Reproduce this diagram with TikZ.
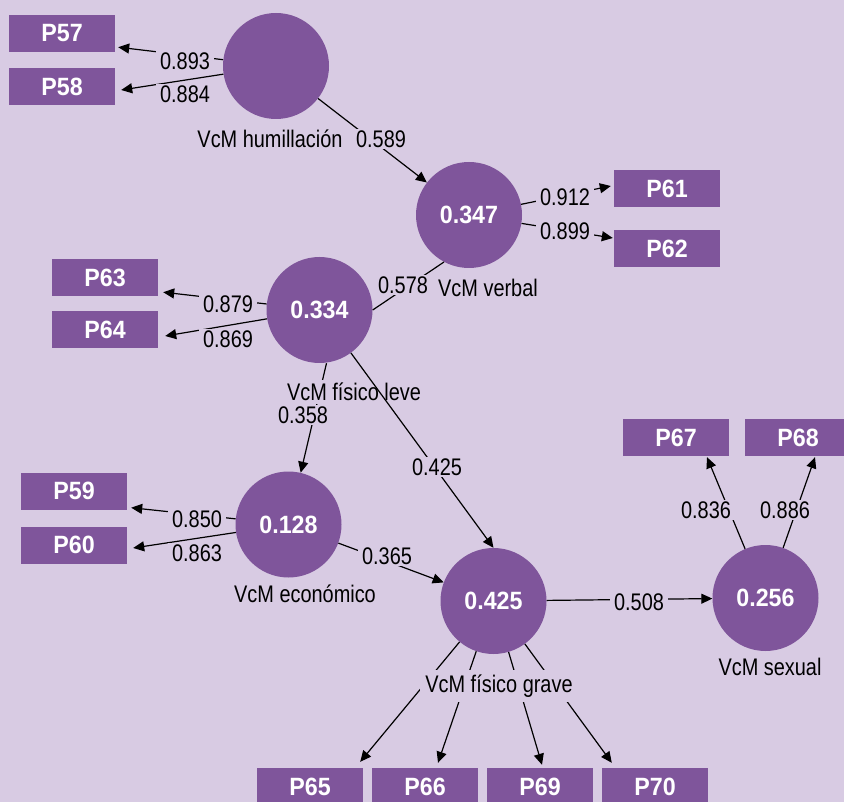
\documentclass[tikz,border=0pt]{standalone}
\usepackage{fontspec}
\setmainfont{Liberation Sans}[FakeStretch=0.83]
\newfontfamily\negrita{Liberation Sans}[FakeStretch=0.93]
\usetikzlibrary{positioning}
\usetikzlibrary{arrows.meta}
\definecolor{fondo}{HTML}{D8CBE3}
\definecolor{morado}{HTML}{7F559B}

\tikzset{
  lat/.style={circle, fill=morado, minimum size=106pt, inner sep=0pt, text=white, font=\fontsize{25}{28}\negrita\bfseries},
  ind/.style={rectangle, fill=morado, minimum width=106pt, minimum height=37pt, inner sep=0pt, text=white, font=\fontsize{25}{28}\negrita\bfseries},
  val/.style={fill=fondo, inner xsep=4pt, inner ysep=2pt, font=\fontsize{24}{27}\selectfont},
  nom/.style={fill=fondo, inner sep=3pt, font=\fontsize{24}{27}\selectfont},
  flecha/.style={-{Triangle[length=11pt,width=10pt]}, line width=1.2pt},
  linea/.style={line width=1.2pt}
}

\begin{document}
\begin{tikzpicture}[x=1pt, y=-1pt]
        \useasboundingbox (0,0) rectangle (844,802);
        \fill [fondo] (0,0) rectangle (844,802);
        \node [lat] (hum) at (276, 66) {};
        \node [lat] (verbal) at (469, 215) {0.347};
        \node [lat] (leve) at (319.5, 310) {0.334};
        \node [lat] (eco) at (288.5, 524.5) {0.128};
        \node [lat] (grave) at (493.5, 601) {0.425};
        \node [lat] (sexual) at (765.5, 598) {0.256};
        \node [ind] (p57) at (62, 33.5) {P57};
        \node [ind] (p58) at (62, 86.5) {P58};
        \node [ind] (p61) at (667, 188.5) {P61};
        \node [ind] (p62) at (667, 248.5) {P62};
        \node [ind] (p63) at (105, 277.5) {P63};
        \node [ind] (p64) at (105, 330) {P64};
        \node [ind] (p59) at (74, 491) {P59};
        \node [ind] (p60) at (74, 545) {P60};
        \node [ind] (p67) at (676, 437.5) {P67};
        \node [ind] (p68) at (798, 437.5) {P68};
        \node [ind] (p65) at (310, 786.5) {P65};
        \node [ind] (p66) at (425, 786.5) {P66};
        \node [ind] (p69) at (540, 786.5) {P69};
        \node [ind] (p70) at (655, 786.5) {P70};
        \draw [flecha] (hum) -- ([shift={(3,-5)}]p57.south east);
        \draw [flecha] (hum) -- ([shift={(6,3.5)}]p58.east);
        \draw [flecha] (hum) -- (verbal);
        \draw [flecha] (verbal) -- ([shift={(-3,-2.5)}]p61.west);
        \draw [flecha] (verbal) -- ([shift={(-1,-10.5)}]p62.west);
        \draw [linea] (verbal.-118) -- (leve.east);
        \draw [flecha] (leve) -- ([shift={(5,-4)}]p63.south east);
        \draw [flecha] (leve) -- ([shift={(7,6)}]p64.east);
        \draw [flecha] ([xshift=7pt]leve.south) -- (eco);
        \draw [flecha] (eco) -- ([shift={(4,-2)}]p59.south east);
        \draw [flecha] (eco) -- ([shift={(6,3)}]p60.east);
        \draw [flecha] (eco) -- (grave);
        \draw [flecha] (grave) -- (sexual);
        \draw [flecha] (sexual) -- ([shift={(31,1)}]p67.south);
        \draw [flecha] (sexual) -- ([shift={(17,1)}]p68.south);
        \draw [flecha] (grave) -- ([shift={(-3,-6)}]p65.north east);
        \draw [flecha] (grave) -- ([shift={(13,-5)}]p66.north);
        \draw [flecha] (grave) -- ([shift={(2,-3)}]p69.north);
        \draw [flecha] (grave) -- ([shift={(10,-5)}]p70.north west);
        \node [nom] (nhum) at (270, 139) {VcM humillación};
        \node [nom] (nverbal) at (488, 288) {VcM verbal};
        \node [nom] (nleve) at (354, 392) {VcM físico leve};
        \node [nom] (neco) at (305, 594) {VcM económico};
        \node [nom, inner sep=5pt] (ngrave) at (499, 686) {VcM físico grave};
        \node [nom] (nsexual) at (770, 667) {VcM sexual};
        \node [val] (l57) at (185, 61) {0.893};
        \node [val] (l58) at (185, 94) {0.884};
        \node [val] (l589) at (381, 139) {0.589};
        \node [val] (l61) at (565, 197) {0.912};
        \node [val] (l62) at (565, 231) {0.899};
        \node [val] (l578) at (403, 285) {0.578};
        \node [val] (l63) at (228, 304) {0.879};
        \node [val] (l64) at (228, 339) {0.869};
        \node [val] (l358) at (303, 415) {0.358};
        \node [val] (l59) at (197, 519) {0.850};
        \node [val] (l60) at (197, 553) {0.863};
        \node [val] (l365) at (387, 556) {0.365};
        \node [val] (l508) at (639, 602) {0.508};
        \node [val] (l67) at (706, 510) {0.836};
        \node [val] (l68) at (785, 510) {0.886};
        \draw [flecha] (leve) -- (grave.north);
        \node [val] (l425) at (437, 467) {0.425};
      \end{tikzpicture}
\end{document}
